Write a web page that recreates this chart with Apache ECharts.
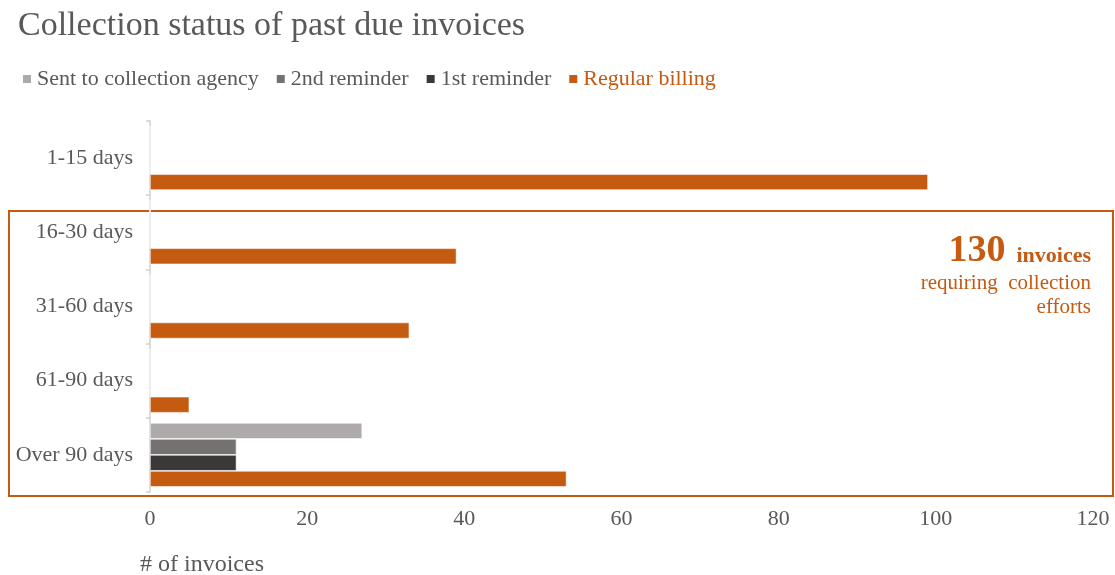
<!DOCTYPE html>
<html>
<head>
<meta charset="utf-8">
<script src="https://cdn.jsdelivr.net/npm/echarts@6/dist/echarts.min.js"></script>
<style>
  html, body { margin: 0; padding: 0; background: #fff; }
  #chart { width: 1115px; height: 575px; }
</style>
</head>
<body>
<div id="chart"></div>
<script>
// Past-due buckets, top to bottom
const categories = ['1-15 days', '16-30 days', '31-60 days', '61-90 days', 'Over 90 days'];

// Invoice counts per collection stage
const sentToAgency   = [0, 0, 0, 0, 27];
const secondReminder = [0, 0, 0, 0, 11];
const firstReminder  = [0, 0, 0, 0, 11];
const regularBilling = [99, 39, 33, 5, 53];

const xTicks = { min: 0, max: 120, interval: 20 };

// Buckets past 15 days need collection follow-up
const collectionTotal = regularBilling.slice(1).reduce((a, b) => a + b, 0);

const FONT = '"Liberation Serif", "DejaVu Serif", serif';
const GREY_TEXT = '#595959';
const ORANGE = '#c55a11';

const chart = echarts.init(document.getElementById('chart'), null, { renderer: 'canvas' });

function bar(name, data, color) {
  return {
    name, type: 'bar', data,
    barWidth: 16, barGap: '0%',
    itemStyle: { color, borderColor: '#ffffff', borderWidth: 0.6 },
    emphasis: { disabled: true },
    animation: false
  };
}

chart.setOption({
  animation: false,
  textStyle: { fontFamily: FONT },
  title: {
    text: 'Collection status of past due invoices',
    left: 18, top: 9, padding: 0,
    textStyle: { fontFamily: FONT, fontSize: 34, fontWeight: 'normal', color: GREY_TEXT }
  },
  legend: {
    left: 21, top: 68, padding: 0,
    itemWidth: 10, itemHeight: 10, itemGap: 16,
    icon: 'rect',
    textStyle: { fontFamily: FONT, fontSize: 22, color: GREY_TEXT },
    data: [
      { name: 'Sent to collection agency' },
      { name: '2nd reminder' },
      { name: '1st reminder' },
      { name: 'Regular billing', textStyle: { color: ORANGE } }
    ]
  },
  grid: { left: 150, right: 22, top: 121, bottom: 83, containLabel: false },
  xAxis: {
    type: 'value',
    min: xTicks.min, max: xTicks.max, interval: xTicks.interval,
    axisLine: { show: false },
    axisTick: { show: false },
    splitLine: { show: false },
    axisLabel: { fontFamily: FONT, fontSize: 22, color: GREY_TEXT, margin: 16 }
  },
  yAxis: {
    type: 'category',
    data: categories,
    inverse: true,
    axisLine: { show: true, lineStyle: { color: '#d0d0d0', width: 1.5 } },
    axisTick: { show: true, length: 4, lineStyle: { color: '#d0d0d0', width: 1.5 } },
    axisLabel: { fontFamily: FONT, fontSize: 22, color: GREY_TEXT, margin: 17, padding: [4, 0, 0, 0] }
  },
  series: [
    bar('Sent to collection agency', sentToAgency, '#aeaaaa'),
    bar('2nd reminder', secondReminder, '#767171'),
    bar('1st reminder', firstReminder, '#3b3838'),
    bar('Regular billing', regularBilling, ORANGE)
  ],
  graphic: [
    {
      type: 'rect',
      shape: { x: 9, y: 211, width: 1104, height: 285 },
      style: { fill: 'none', stroke: ORANGE, lineWidth: 2 },
      silent: true
    },
    {
      type: 'text',
      right: 24, top: 232,
      style: {
        text: '{big|' + collectionTotal + '}{b|invoices}',
        fill: ORANGE,
        rich: {
          big: { fontFamily: FONT, fontSize: 38, fontWeight: 'bold', fill: ORANGE, verticalAlign: 'bottom' },
          b: { fontFamily: FONT, fontSize: 22, fontWeight: 'bold', fill: ORANGE, verticalAlign: 'bottom', padding: [0, 0, 3, 11] }
        }
      }
    },
    {
      type: 'text',
      right: 24, top: 273,
      style: { text: 'requiring  collection', fontFamily: FONT, fontSize: 21, fill: ORANGE }
    },
    {
      type: 'text',
      right: 24, top: 297,
      style: { text: 'efforts', fontFamily: FONT, fontSize: 21, fill: ORANGE }
    },
    {
      type: 'text',
      left: 140, top: 553,
      style: { text: '# of invoices', fontFamily: FONT, fontSize: 24, fill: GREY_TEXT }
    }
  ]
});
</script>
</body>
</html>
